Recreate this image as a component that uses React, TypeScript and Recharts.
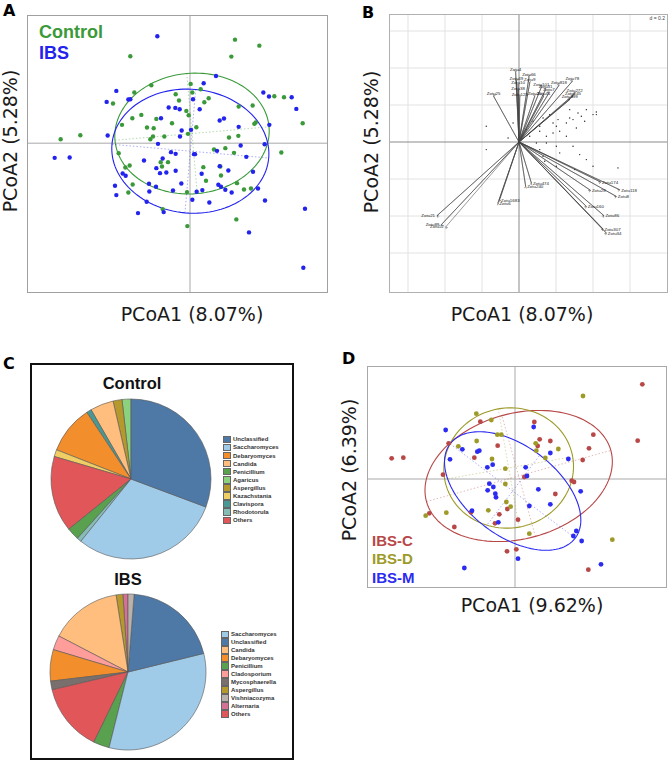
import React from 'react';
import { ScatterChart, Scatter, XAxis, YAxis, ReferenceLine, PieChart, Pie, Cell } from 'recharts';

type P = [number, number];

// ---------------- Panel A : PCoA (Control vs IBS) ----------------
const aControl: P[] = [
  [1.35, 3.11], [2.08, 2.93], [1.24, 2.6], [-1.79, 2.61], [0.02, 1.78], [0.32, 1.62], [-1.16, 1.74], [-1.67, 1.52],
  [-2.31, 1.19], [0.07, 1.52], [-0.43, 1.47], [-0.33, 1.28], [0.43, 1.23], [0.56, 1.35], [1.46, 1.1], [1.88, 1.13],
  [2.53, 1.41], [2.82, 1.38], [-0.11, 0.97], [-1.73, 0.75], [-1.46, 0.85], [-0.04, 0.84], [-1.01, 0.73], [-0.54, 0.6],
  [-2.04, 0.55], [-1.29, 0.47], [-1.09, 0.45], [0.19, 0.48], [1.97, 0.62], [1.93, 0.58], [3.38, 0.6], [-3.88, 0.12],
  [-3.29, 0.24], [-1.11, 0.2], [-0.77, 0.2], [-0.06, 0.28], [1.17, 0.17], [1.45, 0.22], [-1.19, 0.12], [1.06, -0.15],
  [0.72, -0.19], [1.32, -0.29], [2.74, -0.28], [-2.14, -0.3], [-0.88, -0.57], [-0.66, -0.57], [-1.81, -0.67],
  [-1.94, -0.73], [0.4, -0.72], [0.91, -0.7], [-0.84, -0.7], [0.93, -0.97], [0.48, -1.13], [-1.72, -1.24],
  [1.41, -1.2], [1.62, -1.39], [1.83, -1.36], [-1.85, -1.48], [-0.09, -1.47], [-0.82, -1.98], [1.39, -2.29],
  [-0.08, -2.49],
];
const aIBS: P[] = [
  [-0.98, 3.21], [0.78, 2.02], [0.41, 1.8], [-2.21, 1.57], [-2.5, 1.24], [-1.85, 1.31], [-1.79, 1.32], [0.09, 1.32],
  [2.2, 1.52], [2.37, 1.4], [3.05, 1.38], [3.19, 1.03], [-0.64, 1.07], [-0.44, 1.06], [-0.31, 1.02], [0.29, 1.02],
  [-0.87, 0.75], [0.89, 0.68], [1.02, 0.74], [-0.25, 0.38], [0.03, 0.4], [1.46, 0.49], [2.38, 0.55], [-2.47, 0.23],
  [-0.3, 0.2], [-0.96, -0.02], [2.24, -0.03], [1.52, -0.07], [0.81, -0.23], [-0.57, -0.27], [-0.43, -0.32],
  [0.12, -0.33], [0.15, -0.33], [1.69, -0.41], [-4.06, -0.44], [-3.61, -0.43], [-1.38, -0.52], [-0.82, -0.46],
  [-1.01, -0.75], [-0.9, -0.9], [-0.71, -0.88], [-0.43, -0.83], [0.35, -0.92], [0.89, -0.69], [1.15, -0.82],
  [1.89, -0.86], [-2.02, -0.91], [-1.93, -0.98], [-0.26, -1.21], [-1.23, -1.22], [-1.02, -1.31], [0.85, -1.25],
  [0.93, -1.31], [1.06, -1.4], [-0.51, -1.42], [0.2, -1.46], [0.37, -1.41], [1.25, -1.48], [2.04, -1.36],
  [-2.25, -1.28], [-1.22, -1.45], [-2.21, -1.56], [-1.3, -1.76], [0.07, -1.7], [0.58, -1.78], [2.25, -1.72],
  [-1.56, -2.1], [-0.79, -2.07], [3.45, -1.97], [1.77, -2.68], [3.4, -3.74],
];
// ellipse: [centerX, centerY, semiMajor, semiMinor, angleDeg]
const aEllControl = [0.06, 0.29, 2.32, 1.81, 5];
const aEllIBS = [0.01, -0.24, 2.36, 1.86, -5];
const aLegend = ['Control', 'IBS'];

// ---------------- Panel B : biplot ----------------
const bArrows: [string, number, number][] = [
  ['Zotu25', -0.137, 0.247], ['Zotu4', -0.018, 0.377], ['Zotu49', -0.014, 0.328], ['Zotu10', -0.005, 0.305],
  ['Zotu38', -0.005, 0.274], ['Zotu123', 0.004, 0.241], ['Zotu66', 0.054, 0.351], ['Zotu9', 0.058, 0.319],
  ['Zotu20', 0.085, 0.247], ['Zotu101', 0.121, 0.297], ['Zotu31', 0.144, 0.283], ['Zotu7', 0.162, 0.265],
  ['Zotu41', 0.133, 0.247], ['Zotu818', 0.216, 0.306], ['Zotu78', 0.288, 0.328], ['Zotu272', 0.301, 0.261],
  ['Zotu245', 0.292, 0.247], ['Zotu399', 0.274, 0.229], ['Zotu174', 0.441, -0.216], ['Zotu118', 0.544, -0.258],
  ['Zotu8', 0.526, -0.294], ['Zotu28', 0.386, -0.261], ['Zotu160', 0.364, -0.348],
  ['Zotu86', 0.459, -0.398], ['Zotu307', 0.454, -0.47], ['Zotu34', 0.472, -0.492],
  ['Zotu474', 0.067, -0.222], ['Zotu240', 0.036, -0.24], ['Zotu1683', -0.105, -0.312],
  ['Zotu6', -0.114, -0.33], ['Zotu21', -0.443, -0.398], ['Zotu89', -0.42, -0.447], ['Zotu12', -0.396, -0.459],
];
const bSites: P[] = [
  [0.418, 0.162], [0.364, 0.175], [0.292, 0.121], [0.256, 0.103], [0.274, 0.13], [0.202, 0.085], [0.184, 0.049],
  [0.148, 0.031], [0.112, 0.058], [0.22, 0.058], [0.31, 0.076], [0.355, 0.112], [0.337, 0.139], [0.4, 0.148],
  [0.112, 0.085], [0.13, 0.13], [0.166, 0.148], [0.076, 0.112], [0.04, 0.067], [0.058, 0.031], [0.202, -0.023],
  [0.22, -0.059], [0.292, -0.023], [0.328, -0.068], [0.364, -0.095], [0.4, -0.131], [0.535, -0.14], [0.13, -0.077],
  [0.112, -0.041], [0.148, -0.005], [-0.059, 0.022], [-0.177, 0.085], [-0.177, -0.041], [-0.032, 0.103],
  [0.256, 0.031], [0.094, -0.005], [0.139, -0.104], [0.202, -0.131], [0.301, -0.149], [0.418, 0.148],
  [0.274, 0.175], [0.319, 0.157], [0.211, 0.121], [0.184, 0.103],
];
const bGrid = [-0.6, -0.4, -0.2, 0.2, 0.4, 0.6];

// ---------------- Panel C : pies ----------------
const cControlNames = ['Agaricus', 'Aspergillus', 'Candida', 'Clavispora', 'Debaryomyces', 'Kazachstania', 'Others', 'Penicillium', 'Rhodotorula', 'Saccharomyces', 'Unclassified'];
const cControlValues = [1.8, 1.8, 4.7, 1.0, 9.7, 1.4, 15.3, 2.5, 0.9, 30.0, 30.6];
const cControlLegend = ['Unclassified', 'Saccharomyces', 'Debaryomyces', 'Candida', 'Penicillium', 'Agaricus', 'Aspergillus', 'Kazachstania', 'Clavispora', 'Rhodotorula', 'Others'];
const cIBSNames = ['Alternaria', 'Aspergillus', 'Candida', 'Cladosporium', 'Debaryomyces', 'Mycosphaerella', 'Others', 'Penicillium', 'Saccharomyces', 'Unclassified', 'Vishniacozyma'];
const cIBSValues = [1.05, 1.4, 14.9, 3.0, 6.5, 1.8, 14.1, 3.3, 32.7, 19.9, 1.25];
const cIBSLegend = ['Saccharomyces', 'Unclassified', 'Candida', 'Debaryomyces', 'Penicillium', 'Cladosporium', 'Mycosphaerella', 'Aspergillus', 'Vishniacozyma', 'Alternaria', 'Others'];
const genusColors: Record<string, string> = {
  Unclassified: '#4e79a7', Saccharomyces: '#a0cbe8', Debaryomyces: '#f28e2b', Candida: '#ffbe7d',
  Penicillium: '#59a14f', Agaricus: '#8cd17d', Aspergillus: '#b6992d', Kazachstania: '#f1ce63',
  Clavispora: '#499894', Rhodotorula: '#86bcb6', Others: '#e15759', Cladosporium: '#ff9d9a',
  Mycosphaerella: '#79706e', Vishniacozyma: '#bab0ac', Alternaria: '#d37295',
};

// ---------------- Panel D : IBS subtypes ----------------
const dIBSC: P[] = [
  [3.82, 2.84], [3.68, 1.15], [0.58, 1.71], [-1.04, 1.72], [2.35, 1.33], [0.74, 1.19], [1.06, 1.14], [2.22, 0.92],
  [2.03, 0.57], [-0.52, 1.0], [0.68, 0.99], [-1.99, 1.07], [-1.22, 0.64], [-3.7, 0.62], [-3.35, 0.64], [-2.16, 0.13],
  [0.28, 0.06], [1.7, -0.05], [1.77, -0.09], [1.21, -0.45], [-2.57, -1.03], [-1.32, -1.0], [-0.23, -0.9],
  [-0.47, -1.06], [0.09, -1.22], [-0.6, -1.33], [-1.82, -1.44], [0.04, -2.11], [-0.24, -2.17], [2.2, -2.72],
];
const dIBSD: P[] = [
  [2.04, 2.49], [-1.16, 1.96], [-0.71, 1.77], [-0.53, 1.33], [-0.41, 1.33], [-1.15, 1.14], [-1.7, 0.98], [0.62, 1.07],
  [1.3, 0.9], [0.64, 0.85], [0.91, 0.63], [-0.69, 0.6], [-0.29, 0.31], [-0.29, -0.15], [-0.26, -0.69], [-0.13, -0.83],
  [-0.8, -0.94], [-2.06, -1.01], [-2.68, -1.1], [0.43, -1.64], [2.92, -1.82],
];
const dIBSM: P[] = [
  [-2.08, 1.47], [0.56, 1.56], [-1.58, 0.89], [-1.13, 0.82], [-1.07, 0.85], [-1.95, 0.59], [1.06, 0.78], [1.6, 0.6],
  [-0.83, 0.35], [-0.67, 0.43], [0.32, 0.35], [0.36, 0.09], [-0.77, -0.14], [-0.65, -0.24], [-0.82, -0.34],
  [-0.59, -0.44], [-0.57, -0.55], [0.7, -0.31], [1.97, -0.37], [1.06, -0.76], [0.43, -0.81], [-1.29, -0.95],
  [-0.5, -1.3], [1.84, -1.56], [1.75, -1.71], [2.0, -1.86], [0.09, -2.39], [-1.52, -2.67], [2.58, -2.56],
];
const dEllC = [0.11, 0.09, 2.87, 1.88, 15.5];
const dEllD = [-0.19, 0.33, 1.95, 1.8, 10];
const dEllM = [-0.07, -0.36, 2.35, 1.35, -37];
const dLegend = ['IBS-C', 'IBS-D', 'IBS-M'];

// ---------------- helpers ----------------
const toPts = (arr: P[]) => arr.map(([x, y]) => ({ x, y }));

function ellipseOutline(e: number[], n = 120) {
  const [cx, cy, a, b, ang] = e;
  const t = (ang * Math.PI) / 180;
  const pts = [];
  for (let i = 0; i <= n; i++) {
    const u = (2 * Math.PI * i) / n;
    const ex = a * Math.cos(u);
    const ey = b * Math.sin(u);
    pts.push({ x: cx + ex * Math.cos(t) - ey * Math.sin(t), y: cy + ex * Math.sin(t) + ey * Math.cos(t) });
  }
  return pts;
}
function ellipseAxis(e: number[], which: 0 | 1) {
  const [cx, cy, a, b, ang] = e;
  const t = (ang * Math.PI) / 180 + (which ? Math.PI / 2 : 0);
  const r = which ? b : a;
  return [
    { x: cx - r * Math.cos(t), y: cy - r * Math.sin(t) },
    { x: cx + r * Math.cos(t), y: cy + r * Math.sin(t) },
  ];
}

const noShape = () => <g />;
const dotShape = (r: number, fill: string) => (p: any) => <circle cx={p.cx} cy={p.cy} r={r} fill={fill} />;

const AXIS_FONT = '"DejaVu Sans", Verdana, sans-serif';
const BOLD_FONT = '"Liberation Sans", Arial, sans-serif';

const AxisText = ({ x, y, text, vertical }: { x: number; y: number; text: string; vertical?: boolean }) => (
  <div
    style={{
      position: 'absolute', left: x, top: y, fontFamily: AXIS_FONT, fontSize: 19, lineHeight: '19px',
      color: '#1a1a1a', whiteSpace: 'nowrap',
      transform: `translate(-50%, -50%)${vertical ? ' rotate(-90deg)' : ''}`,
    }}
  >
    {text}
  </div>
);

const PanelLetter = ({ x, y, t }: { x: number; y: number; t: string }) => (
  <div style={{ position: 'absolute', left: x, top: y, fontFamily: '"DejaVu Sans", sans-serif', fontWeight: 700, fontSize: 16, lineHeight: '16px', color: '#000' }}>{t}</div>
);

function ellipseElements(key: string, e: number[], color: string, width: number) {
  return [
    <Scatter key={key + 'ma'} data={ellipseAxis(e, 0)} shape={noShape} line={{ stroke: color, strokeWidth: 0.7, strokeDasharray: '1.5 2', strokeOpacity: 0.55 }} isAnimationActive={false} />,
    <Scatter key={key + 'mi'} data={ellipseAxis(e, 1)} shape={noShape} line={{ stroke: color, strokeWidth: 0.7, strokeDasharray: '1.5 2', strokeOpacity: 0.55 }} isAnimationActive={false} />,
    <Scatter key={key + 'el'} data={ellipseOutline(e)} shape={noShape} line={{ stroke: color, strokeWidth: width }} isAnimationActive={false} />,
  ];
}

// biplot arrow tip + label
const ArrowTip = (p: any) => {
  const { cx, cy, payload } = p;
  if (cx == null || payload == null) return <g />;
  const ang = Math.atan2(-payload.y, payload.x);
  const L = 2.2;
  const b1 = ang + Math.PI - 0.5;
  const b2 = ang + Math.PI + 0.5;
  let tx = cx, ty = cy, anchor: 'start' | 'middle' | 'end' = 'start';
  if (payload.x < -0.3) { tx = cx - 2; ty = cy + 1.5; anchor = 'end'; }
  else if (payload.y > 0) { tx = cx; ty = cy - 1.5; anchor = 'middle'; }
  else { tx = cx + 1.5; ty = cy + 1.8; anchor = 'start'; }
  return (
    <g>
      <path d={`M${cx + L * Math.cos(b1)},${cy - L * Math.sin(b1)} L${cx},${cy} L${cx + L * Math.cos(b2)},${cy - L * Math.sin(b2)}`} stroke="#333" strokeWidth={0.5} fill="none" />
      <text x={tx} y={ty} textAnchor={anchor} fontSize={4.4} fontFamily={BOLD_FONT} fill="#222">{payload.name}</text>
    </g>
  );
};

export default function App() {
  const bPolyline: { x: number; y: number }[] = [];
  bArrows.forEach(([, x, y]) => {
    bPolyline.push({ x: 0, y: 0 });
    bPolyline.push({ x, y });
  });
  const bTips = bArrows.map(([name, x, y]) => ({ name, x, y }));

  const ctrlPie = cControlNames.map((n, i) => ({ name: n, value: cControlValues[i] }));
  const ibsPie = cIBSNames.map((n, i) => ({ name: n, value: cIBSValues[i] }));

  const green = '#3a9a3a';
  const blueA = '#2323ee';
  const dRed = '#b84848';
  const dOlive = '#9d9a28';
  const dBlue = '#2b2bf2';

  const legendRows = (names: string[], left: number, top0: number, step: number) =>
    names.map((n, i) => (
      <div key={n} style={{ position: 'absolute', left, top: top0 + i * step - 4, height: 8, display: 'flex', alignItems: 'center' }}>
        <div style={{ width: 8, height: 7.6, background: genusColors[n], boxSizing: 'border-box', border: '0.5px solid #666' }} />
        <div style={{ marginLeft: 2, fontFamily: BOLD_FONT, fontWeight: 700, fontSize: 6, lineHeight: '8px', color: '#333', whiteSpace: 'nowrap' }}>{n}</div>
      </div>
    ));

  return (
    <div style={{ position: 'absolute', left: 0, top: 0, width: 669, height: 762, background: '#fff', overflow: 'hidden' }}>
      {/* ---------- Panel A ---------- */}
      <PanelLetter x={3} y={3} t="A" />
      <div style={{ position: 'absolute', left: 27, top: 15, width: 301, height: 278 }}>
        <ScatterChart width={301} height={278} margin={{ top: 0, right: 0, bottom: 0, left: 0 }}>
          <XAxis type="number" dataKey="x" domain={[-4.89, 4.14]} hide allowDataOverflow />
          <YAxis type="number" dataKey="y" domain={[-4.5, 3.85]} hide allowDataOverflow />
          <ReferenceLine x={0} stroke="#a8a8a8" strokeWidth={1} />
          <ReferenceLine y={0} stroke="#a8a8a8" strokeWidth={1} />
          {ellipseElements('ac', aEllControl, green, 1.1)}
          {ellipseElements('ai', aEllIBS, blueA, 1.1)}
          <Scatter data={toPts(aControl)} shape={dotShape(2.2, green)} isAnimationActive={false} />
          <Scatter data={toPts(aIBS)} shape={dotShape(2.2, blueA)} isAnimationActive={false} />
        </ScatterChart>
        <div style={{ position: 'absolute', left: 0, top: 0, width: 301, height: 278, border: '1px solid #a0a0a0', boxSizing: 'border-box', pointerEvents: 'none' }} />
        <div style={{ position: 'absolute', left: 12, top: 6.6, fontFamily: BOLD_FONT, fontWeight: 700, fontSize: 18, lineHeight: '21px', color: green }}>{aLegend[0]}</div>
        <div style={{ position: 'absolute', left: 12, top: 27.6, fontFamily: BOLD_FONT, fontWeight: 700, fontSize: 18, lineHeight: '21px', color: blueA }}>{aLegend[1]}</div>
      </div>
      <AxisText x={10} y={141} text="PCoA2 (5.28%)" vertical />
      <AxisText x={192} y={314} text="PCoA1 (8.07%)" />

      {/* ---------- Panel B ---------- */}
      <PanelLetter x={362} y={5} t="B" />
      <div style={{ position: 'absolute', left: 389, top: 14, width: 279, height: 279 }}>
        <ScatterChart width={279} height={279} margin={{ top: 0, right: 0, bottom: 0, left: 0 }}>
          <XAxis type="number" dataKey="x" domain={[-0.7027, 0.8054]} hide allowDataOverflow />
          <YAxis type="number" dataKey="y" domain={[-0.8162, 0.6919]} hide allowDataOverflow />
          {bGrid.map((g) => <ReferenceLine key={'vx' + g} x={g} stroke="#e2e2e2" strokeWidth={1} />)}
          {bGrid.map((g) => <ReferenceLine key={'hy' + g} y={g} stroke="#e2e2e2" strokeWidth={1} />)}
          <ReferenceLine x={0} stroke="#8a8a8a" strokeWidth={1} />
          <ReferenceLine y={0} stroke="#8a8a8a" strokeWidth={1} />
          <Scatter data={toPts(bSites)} shape={dotShape(0.7, '#222')} isAnimationActive={false} />
          <Scatter data={bPolyline} shape={noShape} line={{ stroke: '#444', strokeWidth: 0.55 }} isAnimationActive={false} />
          <Scatter data={bTips} shape={ArrowTip} isAnimationActive={false} />
        </ScatterChart>
        <div style={{ position: 'absolute', left: 0, top: 0, width: 279, height: 279, border: '1px solid #b0b0b0', boxSizing: 'border-box', pointerEvents: 'none' }} />
        <div style={{ position: 'absolute', right: 2, top: 1, fontFamily: BOLD_FONT, fontSize: 5, lineHeight: '6px', color: '#444', background: '#fff', padding: '0 1px' }}>d = 0.2</div>
      </div>
      <AxisText x={371} y={142} text="PCoA2 (5.28%)" vertical />
      <AxisText x={522} y={314} text="PCoA1 (8.07%)" />

      {/* ---------- Panel C ---------- */}
      <PanelLetter x={3} y={356} t="C" />
      <div style={{ position: 'absolute', left: 30, top: 363, width: 264, height: 397, border: '2px solid #111', boxSizing: 'border-box' }}>
        <div style={{ position: 'absolute', left: 0, top: 0 }}>
          <PieChart width={260} height={393} margin={{ top: 0, right: 0, bottom: 0, left: 0 }}>
            <Pie data={ctrlPie} dataKey="value" nameKey="name" cx={99} cy={114} outerRadius={80} startAngle={90} endAngle={450} stroke="#555" strokeWidth={0.6} isAnimationActive={false}>
              {ctrlPie.map((d) => <Cell key={d.name} fill={genusColors[d.name]} />)}
            </Pie>
            <Pie data={ibsPie} dataKey="value" nameKey="name" cx={96} cy={307} outerRadius={78} startAngle={90} endAngle={450} stroke="#555" strokeWidth={0.6} isAnimationActive={false}>
              {ibsPie.map((d) => <Cell key={d.name} fill={genusColors[d.name]} />)}
            </Pie>
          </PieChart>
        </div>
        <div style={{ position: 'absolute', left: 50, width: 100, top: 10, textAlign: 'center', fontFamily: BOLD_FONT, fontWeight: 700, fontSize: 16.5, lineHeight: '16px', color: '#111' }}>Control</div>
        <div style={{ position: 'absolute', left: 46, width: 100, top: 206, textAlign: 'center', fontFamily: BOLD_FONT, fontWeight: 700, fontSize: 16.5, lineHeight: '16px', color: '#111' }}>IBS</div>
        {legendRows(cControlLegend, 191, 74.3, 8.1)}
        {legendRows(cIBSLegend, 189, 269.3, 7.97)}
      </div>

      {/* ---------- Panel D ---------- */}
      <PanelLetter x={342} y={351} t="D" />
      <div style={{ position: 'absolute', left: 367, top: 366, width: 300, height: 222 }}>
        <ScatterChart width={300} height={222} margin={{ top: 0, right: 0, bottom: 0, left: 0 }}>
          <XAxis type="number" dataKey="x" domain={[-4.44, 4.56]} hide allowDataOverflow />
          <YAxis type="number" dataKey="y" domain={[-3.27, 3.39]} hide allowDataOverflow />
          <ReferenceLine x={0} stroke="#a8a8a8" strokeWidth={1} />
          <ReferenceLine y={0} stroke="#a8a8a8" strokeWidth={1} />
          {ellipseElements('dc', dEllC, dRed, 1.1)}
          {ellipseElements('dd', dEllD, dOlive, 1.1)}
          {ellipseElements('dm', dEllM, dBlue, 1.1)}
          <Scatter data={toPts(dIBSC)} shape={dotShape(2.4, dRed)} isAnimationActive={false} />
          <Scatter data={toPts(dIBSD)} shape={dotShape(2.4, dOlive)} isAnimationActive={false} />
          <Scatter data={toPts(dIBSM)} shape={dotShape(2.4, dBlue)} isAnimationActive={false} />
        </ScatterChart>
        <div style={{ position: 'absolute', left: 0, top: 0, width: 300, height: 222, border: '1px solid #a8a8a8', boxSizing: 'border-box', pointerEvents: 'none' }} />
      </div>
      {dLegend.map((t, i) => (
        <div key={t} style={{ position: 'absolute', left: 372, top: 533 + i * 18.4, fontFamily: BOLD_FONT, fontWeight: 700, fontSize: 15, lineHeight: '15px', color: [dRed, dOlive, dBlue][i] }}>{t}</div>
      ))}
      <AxisText x={349} y={470} text="PCoA2 (6.39%)" vertical />
      <AxisText x={532} y={605} text="PCoA1 (9.62%)" />
    </div>
  );
}
